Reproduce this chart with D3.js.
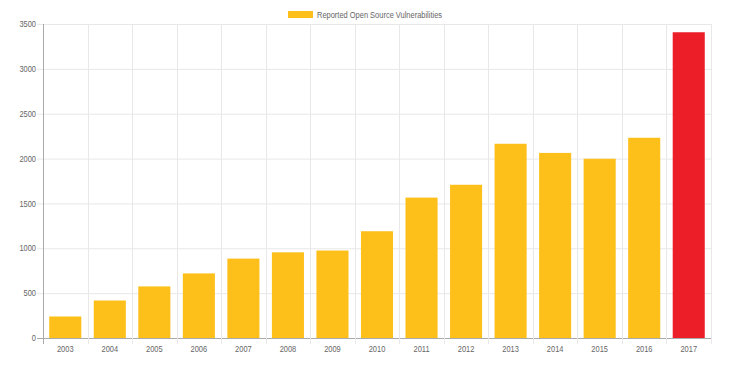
<!DOCTYPE html>
<meta charset="utf-8">
<title>Reported Open Source Vulnerabilities</title>
<style>
body { margin: 0; background: #fff; }
text { font-family: "Liberation Sans", Arial, sans-serif; fill: #666; font-size: 9px; }
</style>
<script src="https://d3js.org/d3.v7.min.js"></script>
<div id="chart"></div>
<script>

var years = ["2003", "2004", "2005", "2006", "2007", "2008", "2009", "2010",
             "2011", "2012", "2013", "2014", "2015", "2016", "2017"];
var vulns = [240, 418, 575, 720, 885, 955, 975, 1190, 1565, 1708, 2165, 2063, 1998, 2232, 3408];
var yTicks = [0, 500, 1000, 1500, 2000, 2500, 3000, 3500];
var seriesName = "Reported Open Source Vulnerabilities";

var width = 750, height = 370,
    margin = {top: 24, right: 39, bottom: 32, left: 43},
    squeeze = 0.83; // text in the original is a narrow face

var svg = d3.select("#chart").append("svg")
    .attr("width", width)
    .attr("height", height);

var x = d3.scaleBand()
    .domain(years)
    .range([margin.left, width - margin.right]);

var y = d3.scaleLinear()
    .domain([0, 3500])
    .range([height - margin.bottom, margin.top]);

function place(px, py) {
  return "translate(" + px + "," + py + ") scale(" + squeeze + ",1)";
}

// grid lines
var grid = svg.append("g");
grid.selectAll(".hgrid")
    .data(yTicks)
  .enter().append("line")
    .attr("x1", margin.left - 6)
    .attr("x2", width - margin.right)
    .attr("y1", function(d) { return y(d) + 0.5; })
    .attr("y2", function(d) { return y(d) + 0.5; })
    .attr("stroke", function(d) { return d == 0 ? "#aaa" : "#e8e8e8"; });

var vx = years.map(function(d) { return x(d); }).concat([width - margin.right]);
grid.selectAll(".vgrid")
    .data(vx)
  .enter().append("line")
    .attr("x1", function(d) { return Math.round(d) + 0.5; })
    .attr("x2", function(d) { return Math.round(d) + 0.5; })
    .attr("y1", margin.top)
    .attr("y2", height - margin.bottom + 6)
    .attr("stroke", function(d, i) { return i == 0 ? "#aaa" : "#e8e8e8"; });

// bars
svg.selectAll(".bar")
    .data(vulns)
  .enter().append("rect")
    .attr("x", function(d, i) { return x(years[i]) + x.bandwidth() * 0.14; })
    .attr("width", x.bandwidth() * 0.72)
    .attr("y", function(d) { return y(d); })
    .attr("height", function(d) { return y(0) - y(d); })
    .attr("fill", function(d, i) { return i == years.length - 1 ? "#ec1f28" : "#fdbf1a"; });

// y labels
svg.selectAll(".ylab")
    .data(yTicks)
  .enter().append("text")
    .attr("transform", function(d) { return place(margin.left - 7, y(d)); })
    .attr("dy", "0.35em")
    .attr("text-anchor", "end")
    .text(function(d) { return d; });

// x labels
svg.selectAll(".xlab")
    .data(years)
  .enter().append("text")
    .attr("transform", function(d) { return place(x(d) + x.bandwidth() / 2, height - margin.bottom + 14); })
    .attr("text-anchor", "middle")
    .text(function(d) { return d; });

// legend
var legend = svg.append("g");
legend.append("rect")
    .attr("x", 288)
    .attr("y", 11)
    .attr("width", 25)
    .attr("height", 7)
    .attr("fill", "#fdbf1a");
legend.append("text")
    .attr("transform", place(317, 14.5))
    .attr("dy", "0.35em")
    .text(seriesName);

</script>
